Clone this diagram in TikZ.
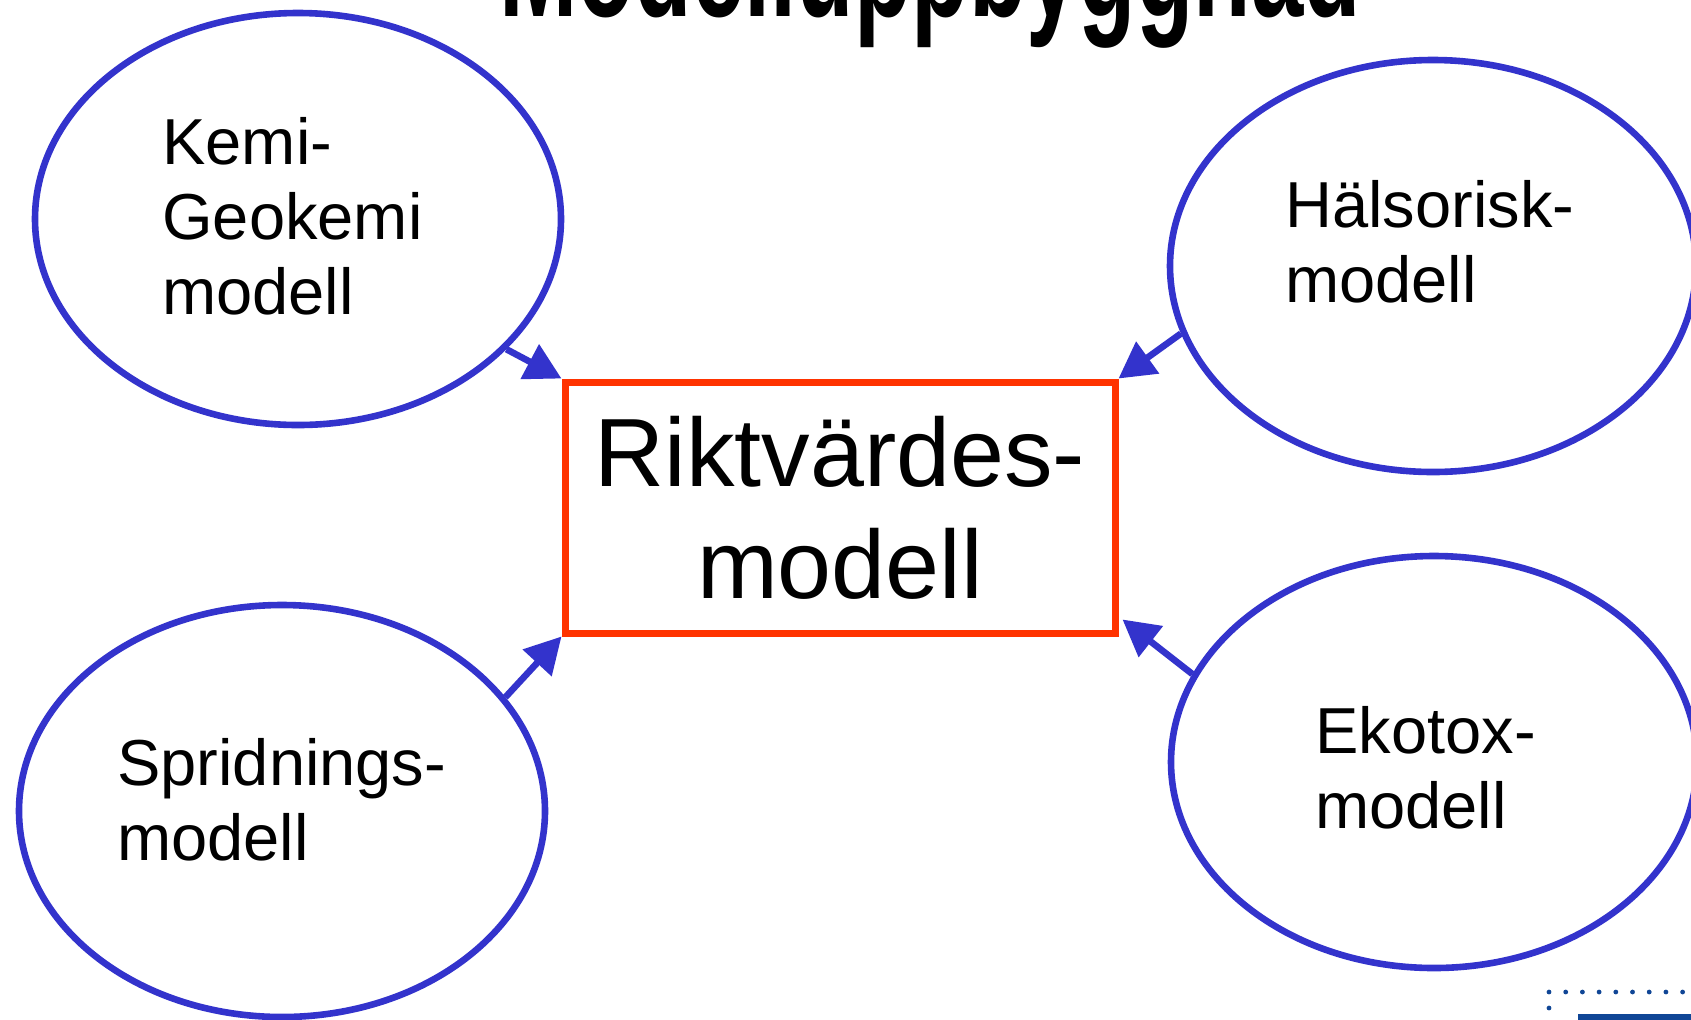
\documentclass[tikz,border=0pt]{standalone}
\usepackage{fontspec}
\setmainfont{Liberation Sans}
\usetikzlibrary{shapes.geometric,arrows.meta}
\definecolor{ellblue}{RGB}{51,51,204}
\definecolor{boxred}{RGB}{255,51,0}
\definecolor{dotblue}{RGB}{16,70,150}
\tikzset{
  model/.style={ellipse, draw=ellblue, line width=3.3pt, inner sep=0pt,
    minimum width=263pt, minimum height=206pt},
  centerbox/.style={rectangle, draw=boxred, line width=3.5pt, inner sep=0pt,
    minimum width=275pt, minimum height=125.5pt,
    font=\fontsize{48.5}{56}\selectfont, align=center},
  modeltext/.style={anchor=base west, inner sep=0pt,
    font=\fontsize{32.5}{37.5}\selectfont},
  feed/.style={draw=ellblue, line width=3.3pt,
    -{Triangle[length=18pt,width=19pt]}},
}
\begin{document}
\begin{tikzpicture}[x=0.5pt,y=-0.5pt]
\useasboundingbox (0,0) rectangle (1691,1019);
\clip (0,0) rectangle (1691,1019);
\fill[white] (0,0) rectangle (1691,1019);

\begin{scope}[shift={(930,16)}, yscale=1.6]
\node[font=\bfseries\fontsize{47}{50}\selectfont, anchor=base, inner sep=0pt,
  transform shape] (title) at (0,0) {Modelluppbyggnad};
\end{scope}

\node[model] (kemi)   at (298,219) {};
\node[model] (halso)  at (1433,266) {};
\node[model] (sprid)  at (282,811) {};
\node[model] (ekotox) at (1434,762) {};

\node[modeltext] (kemitext) at (162,164)
  {\vtop{\hbox{Kemi-}\hbox{Geokemi}\hbox{modell}}};
\node[modeltext] (halsotext) at (1285,227)
  {\vtop{\hbox{Hälsorisk-}\hbox{modell}}};
\node[modeltext] (spridtext) at (117,785)
  {\vtop{\hbox{Spridnings-}\hbox{modell}}};
\node[modeltext] (ekotoxtext) at (1315,753)
  {\vtop{\hbox{Ekotox-}\hbox{modell}}};

\node[centerbox] (riktv) at (840,507.5) {Riktvärdes-\\modell};

\draw[feed] (kemi.-32.3) -- (riktv.north west);
\draw[feed] (halso.195) -- (riktv.north east);
\draw[feed] (sprid.27.9) -- (riktv.south west);
\draw[feed] (ekotox.160) -- ([shift={(4,-17)}]riktv.south east);

\foreach \i in {0,...,8}
  \fill[dotblue] (1549+16.7*\i,992) circle (1.2pt);
\fill[dotblue] (1549,1008) circle (1.2pt);
\fill[dotblue] (1578,1014) rectangle (1700,1025);
\end{tikzpicture}
\end{document}
